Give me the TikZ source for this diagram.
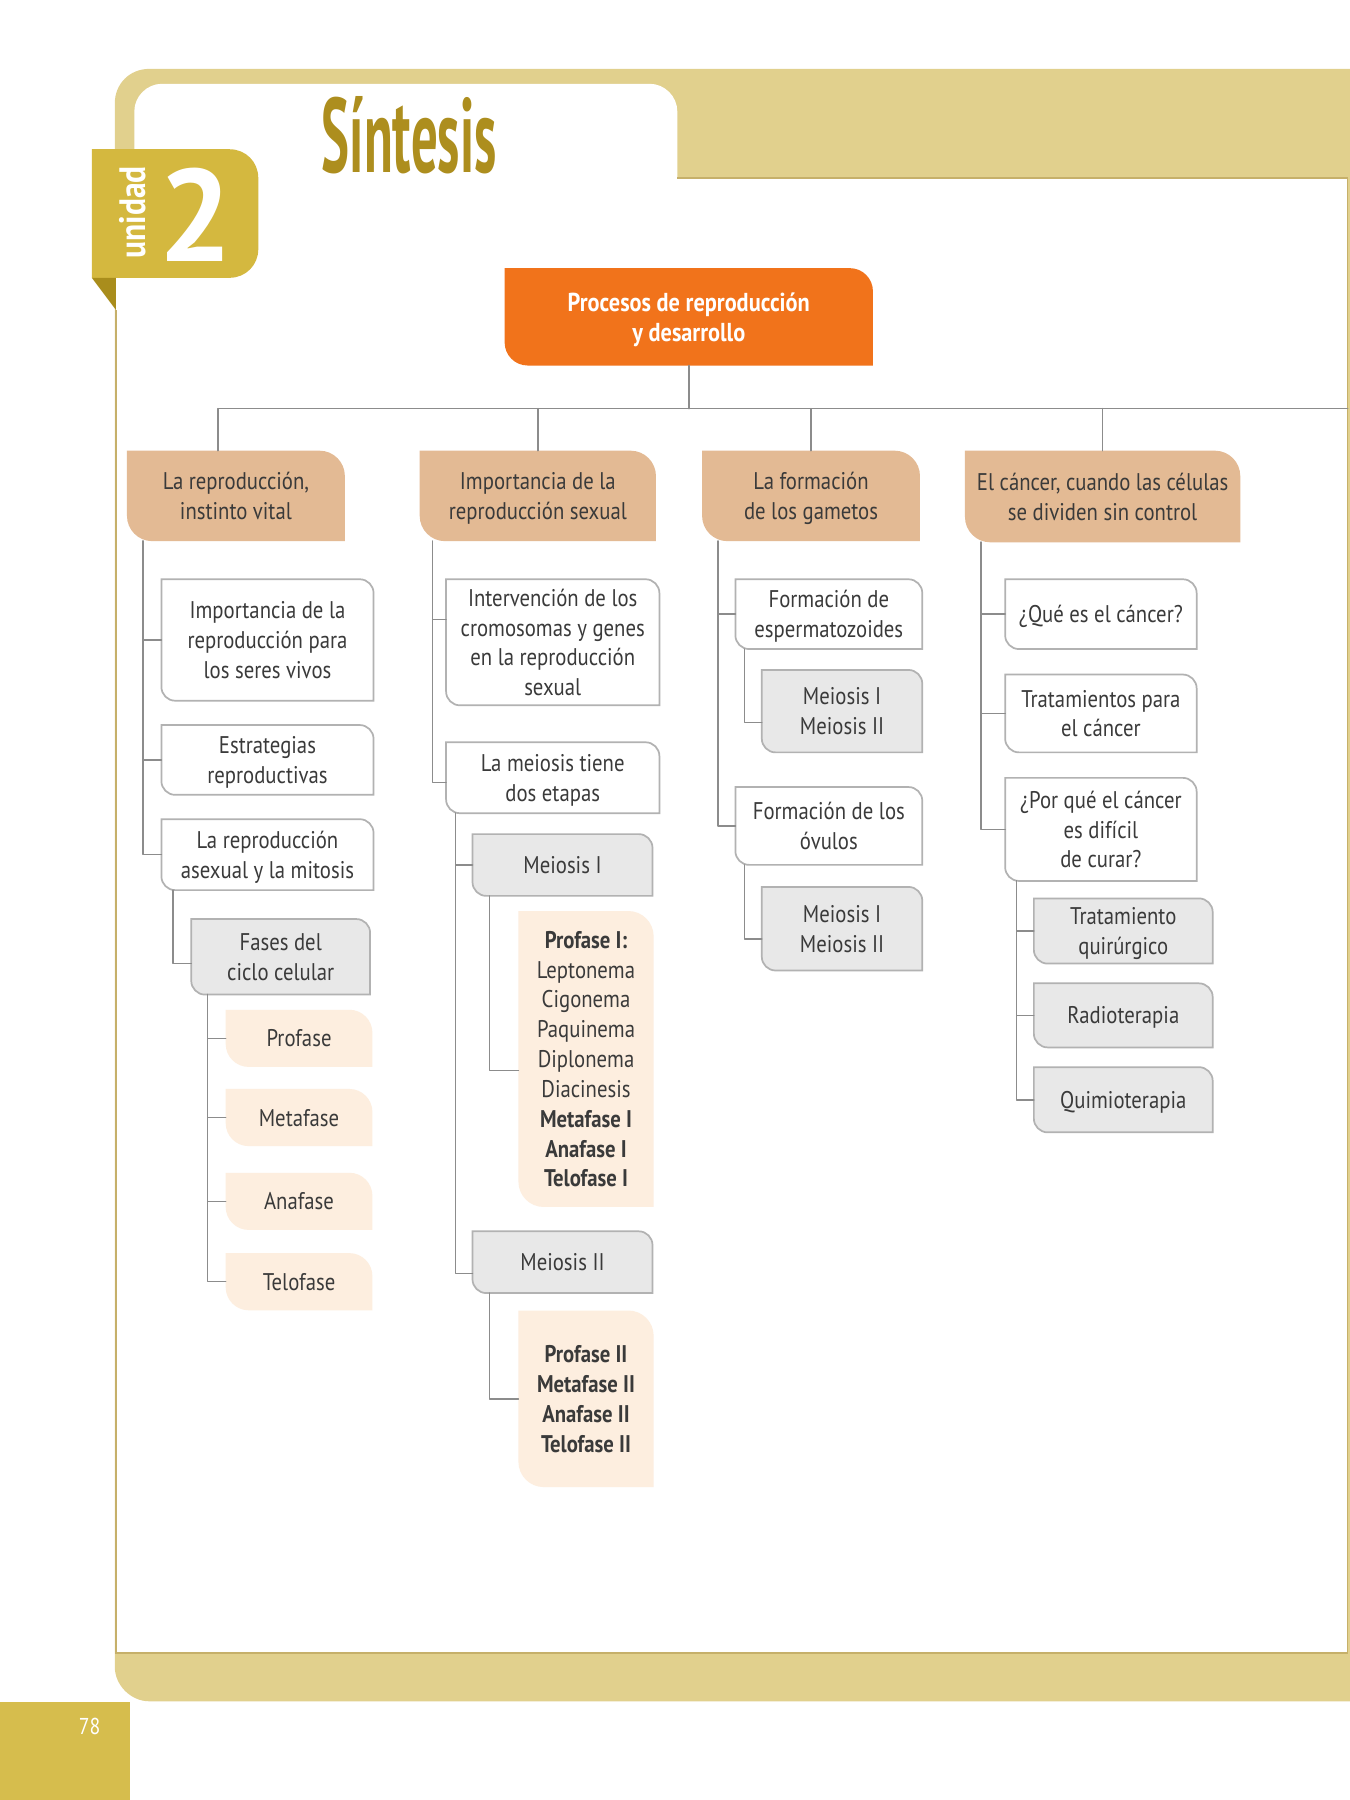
\documentclass[tikz,border=0pt]{standalone}
\usepackage{fontspec}
\setmainfont{PT Sans}
\newfontfamily\cardfont[FakeStretch=0.86]{PT Sans}
\newfontfamily\titlefont[FakeStretch=0.5]{PT Sans}
\usetikzlibrary{backgrounds}
\definecolor{bandgold}{HTML}{E1D08D}
\definecolor{tabgold}{HTML}{D4B83F}
\definecolor{foldgold}{HTML}{A98D1C}
\definecolor{titlegold}{HTML}{AD8E1E}
\definecolor{linegold}{HTML}{C6B06A}
\definecolor{numgold}{HTML}{D6BD4D}
\definecolor{rootorange}{HTML}{F1731B}
\definecolor{headtan}{HTML}{E3BA94}
\definecolor{greybox}{HTML}{E8E8E8}
\definecolor{peach}{HTML}{FDEEDF}
\definecolor{linkgrey}{HTML}{8C8C8C}
\definecolor{boxline}{HTML}{B2B2B2}
\definecolor{txt}{HTML}{3A3A3A}
% card outline: rounded north east and south west corners
\newcommand{\card}[3]{\path[#2] (#1.north west) -- ([xshift=-#3]#1.north east)
  .. controls ([xshift=-0.45*#3]#1.north east) and ([yshift=-0.45*#3]#1.north east) .. ([yshift=-#3]#1.north east)
  -- (#1.south east) -- ([xshift=#3]#1.south west)
  .. controls ([xshift=0.45*#3]#1.south west) and ([yshift=0.45*#3]#1.south west) .. ([yshift=#3]#1.south west) -- cycle;}
\begin{document}
\begin{tikzpicture}[x=0.5pt,y=-0.5pt,line join=round,line cap=round,
    font=\cardfont\fontsize{10.5}{13}\selectfont,
    box/.style={inner sep=0pt,text depth=0pt,align=center,text=txt},
    spanning/.style n args={4}{at={({(#1+#3)/2},{(#2+#4)/2})},
      minimum width={(#3-#1)*0.5pt},minimum height={(#4-#2)*0.5pt}},
    link/.style={draw=linkgrey,line width=0.65pt}]
\useasboundingbox (0,0) rectangle (1176,1568);
% top
\node (root) [box,text=white,font=\cardfont\bfseries\fontsize{11.3}{13}\selectfont,spanning={440}{234}{760}{318}] {Procesos de reproducción\\y desarrollo};
\node (A) [box,spanning={111}{393}{300}{471}] {La reproducción,\\instinto vital};
\node (B) [box,spanning={366}{393}{571}{471}] {Importancia de la\\reproducción sexual};
\node (C) [box,spanning={612}{393}{801}{471}] {La formación\\de los gametos};
\node (D) [box,spanning={841}{393}{1080}{472}] {El cáncer, cuando las células\\se dividen sin control};
% column A
\node (A1) [box,spanning={141}{505}{325}{610}] {Importancia de la\\reproducción para\\los seres vivos};
\node (A2) [box,spanning={141}{632}{325}{692}] {Estrategias\\reproductivas};
\node (A3) [box,spanning={141}{714}{325}{775}] {La reproducción\\asexual y la mitosis};
\node (A3a) [box,spanning={167}{801}{322}{866}] {Fases del\\ciclo celular};
\foreach \n/\t/\y in {P1/Profase/880,P2/Metafase/949,P3/Anafase/1022,P4/Telofase/1092}
  \node (\n) [box,spanning={197}{\y}{324}{\y+49}] {\t};
% column B
\node (B1) [box,spanning={389}{505}{574}{614}] {Intervención de los\\cromosomas y genes\\en la reproducción\\sexual};
\node (B2) [box,spanning={389}{647}{574}{708}] {La meiosis tiene\\dos etapas};
\node (B2a) [box,spanning={412}{727}{568}{780}] {Meiosis I};
\node (B2a1) [box,spanning={452}{794}{569}{1051}] {\textbf{Profase I:}\\Leptonema\\Cigonema\\Paquinema\\Diplonema\\Diacinesis\\\textbf{Metafase I}\\\textbf{Anafase I}\\\textbf{Telofase I}};
\node (B2b) [box,spanning={412}{1073}{568}{1126}] {Meiosis II};
\node (B2b1) [box,spanning={452}{1142}{569}{1295}] {\textbf{Profase II}\\\textbf{Metafase II}\\\textbf{Anafase II}\\\textbf{Telofase II}};
% column C
\node (C1) [box,spanning={641}{505}{803}{565}] {Formación de\\espermatozoides};
\node (C1a) [box,spanning={664}{584}{803}{655}] {Meiosis I\\Meiosis II};
\node (C2) [box,spanning={641}{686}{803}{753}] {Formación de los\\óvulos};
\node (C2a) [box,spanning={664}{773}{803}{845}] {Meiosis I\\Meiosis II};
% column D
\node (D1) [box,spanning={876}{505}{1042}{565}] {¿Qué es el cáncer?};
\node (D2) [box,spanning={876}{588}{1042}{655}] {Tratamientos para\\el cáncer};
\node (D3) [box,spanning={876}{678}{1042}{767}] {¿Por qué el cáncer\\es difícil\\de curar?};
\node (D3a) [box,spanning={901}{783}{1056}{839}] {Tratamiento\\quirúrgico};
\node (D3b) [box,spanning={901}{857}{1056}{912}] {Radioterapia};
\node (D3c) [box,spanning={901}{930}{1056}{986}] {Quimioterapia};
% heading and page number
\node (title) [anchor=base west,inner sep=0pt,text=titlegold,font=\titlefont\bfseries\fontsize{46}{46}\selectfont] at (280,150) {Síntesis};
\node (unit) [rotate=90,anchor=base,inner sep=0pt,text=white,font=\cardfont\bfseries\fontsize{16}{16}\selectfont] at (127,185) {unidad};
\node (unitnum) [anchor=base west,inner sep=0pt,text=white,font=\bfseries\fontsize{57}{57}\selectfont] at (138,228) {2};
\node (pagenum) [text=white,font=\cardfont\fontsize{10}{10}\selectfont] at (78,1504) {78};
\begin{scope}[on background layer]
  \fill[bandgold] (130,1482) .. controls (114,1482) and (100,1468) .. (100,1452) -- (100,90)
    .. controls (100,73) and (113,60) .. (130,60) -- (1176,60) -- (1176,1482) -- cycle;
  \fill[white] (101,1440) -- (101,200) -- (117,200) -- (117,97) .. controls (117,84) and (128,73) .. (141,73)
    -- (566,73) .. controls (579,73) and (590,84) .. (590,97) -- (590,155) -- (1174,155) -- (1174,1440) -- cycle;
  \draw[linegold,line width=0.6pt] (101,270) -- (101,1440) -- (1174,1440) -- (1174,155) -- (590,155);
  \fill[tabgold] (80,130) -- (200,130) .. controls (214,130) and (225,141) .. (225,155) -- (225,217)
    .. controls (225,231) and (214,242) .. (200,242) -- (80,242) -- cycle;
  \fill[foldgold] (80,242) -- (101,242) -- (101,270) -- cycle;
  \fill[numgold] (0,1483) rectangle (113,1568);
  \card{root}{fill=rootorange}{10pt}
  \foreach \n in {A,B,C,D} {\card{\n}{fill=headtan}{11pt}}
  \foreach \n in {A1,A2,A3,B1,B2,C1,C2,D1,D2,D3} {\card{\n}{fill=white,draw=boxline,line width=0.75pt}{6pt}}
  \foreach \n in {A3a,B2a,B2b,C1a,C2a,D3a,D3b,D3c} {\card{\n}{fill=greybox,draw=boxline,line width=0.75pt}{6pt}}
  \foreach \n in {P1,P2,P3,P4} {\card{\n}{fill=peach}{10pt}}
  \foreach \n in {B2a1,B2b1} {\card{\n}{fill=peach}{11pt}}
\end{scope}
% connectors
\coordinate (busL) at (190,356);
\coordinate (busR) at (1174,356);
\draw[link] (busL) -- (busR);
\draw[link] (root.south) -- (root.south |- busL);
\draw[link] (busL) -- (busL |- A.north);
\foreach \n in {B,C,D} \draw[link] (\n.north) -- (\n.north |- busL);
\foreach \n in {A1,A2,A3} \draw[link] ([xshift=7pt]A.south west) |- (\n.west);
\draw[link] ([xshift=5pt]A3.south west) |- ([yshift=-3pt]A3a.west);
\foreach \n in {P1,P2,P3,P4} \draw[link] ([xshift=7pt]A3a.south west) |- (\n.west);
\draw[link] ([xshift=5.5pt]B.south west) |- ([yshift=10pt]B1.west);
\draw[link] ([xshift=5.5pt]B.south west) |- ([yshift=-2pt]B2.west);
\draw[link] ([xshift=4pt]B2.south west) |- (B2a.west);
\draw[link] ([xshift=4pt]B2.south west) |- ([yshift=-5pt]B2b.west);
\draw[link] ([xshift=7.5pt]B2a.south west) |- ([yshift=-5pt]B2a1.west);
\draw[link] ([xshift=7.5pt]B2b.south west) |- (B2b1.west);
\foreach \n in {C1,C2} \draw[link] ([xshift=7pt]C.south west) |- (\n.west);
\draw[link] ([xshift=4pt]C1.south west) |- ([yshift=-5pt]C1a.west);
\draw[link] ([xshift=4pt]C2.south west) |- ([yshift=-4.5pt]C2a.west);
\foreach \n in {D1,D2,D3} \draw[link] ([xshift=7pt]D.south west) |- (\n.west);
\foreach \n in {D3a,D3b,D3c} \draw[link] ([xshift=5pt]D3.south west) |- (\n.west);
\end{tikzpicture}
\end{document}
